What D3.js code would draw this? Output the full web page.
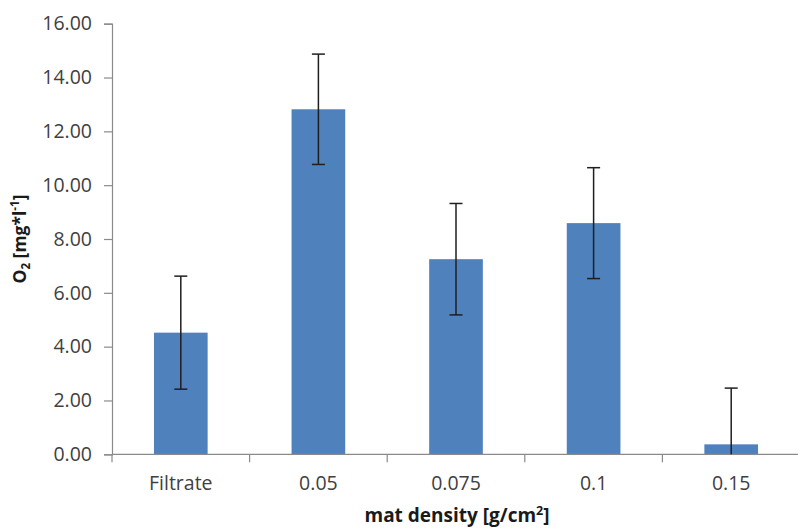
<!DOCTYPE html>
<html>
<head>
<meta charset="utf-8">
<script src="https://cdn.jsdelivr.net/npm/d3@7"></script>
<style>
  body { margin: 0; background: #fff; }
  svg { display: block; font-family: "Open Sans", sans-serif; }
</style>
</head>
<body>
<div id="chart"></div>
<script>
const categories = ["Filtrate", "0.05", "0.075", "0.1", "0.15"];
const means = [4.52, 12.82, 7.25, 8.59, 0.37];
const errors = [2.1, 2.05, 2.07, 2.06, 2.09];
const yTicks = [0, 2, 4, 6, 8, 10, 12, 14, 16];

const W = 798, H = 530;
const plotLeft = 112, plotRight = 800, plotTop = 23.7, plotBottom = 454.3;

const svg = d3.select("#chart").append("svg")
    .attr("width", W)
    .attr("height", H);

const x = d3.scaleBand().domain(categories).range([plotLeft, plotRight]).paddingInner(0.61).paddingOuter(0.305);
const y = d3.scaleLinear().domain([0, 16]).range([plotBottom, plotTop]);

// y axis
const yAxis = svg.append("g")
    .attr("transform", `translate(${plotLeft},0)`)
    .call(d3.axisLeft(y).tickValues(yTicks).tickFormat(d3.format(".2f")).tickSize(8).tickPadding(12));
yAxis.select(".domain").attr("stroke", "#8a8a8a").attr("stroke-width", 1.2);
yAxis.selectAll(".tick line").attr("stroke", "#8a8a8a").attr("stroke-width", 1.2);
yAxis.selectAll(".tick text")
    .attr("fill", "#404040")
    .style("font-size", "19.5px")
    .style("font-family", "'Open Sans', sans-serif");

// bars
svg.selectAll(".bar")
    .data(categories)
    .enter()
    .append("rect")
    .attr("class", "bar")
    .attr("x", d => x(d))
    .attr("width", x.bandwidth())
    .attr("y", (d, i) => y(means[i]))
    .attr("height", (d, i) => y(0) - y(means[i]))
    .attr("fill", "#4F81BD");

// x axis (boundary ticks between categories)
const step = x.step();
const xAxisG = svg.append("g");
xAxisG.append("line")
    .attr("x1", plotLeft).attr("x2", W)
    .attr("y1", y(0)).attr("y2", y(0))
    .attr("stroke", "#8a8a8a").attr("stroke-width", 1.2);
xAxisG.selectAll(".xtick")
    .data(d3.range(categories.length + 1))
    .enter()
    .append("line")
    .attr("x1", i => plotLeft + i * step)
    .attr("x2", i => plotLeft + i * step)
    .attr("y1", y(0))
    .attr("y2", y(0) + 8)
    .attr("stroke", "#8a8a8a").attr("stroke-width", 1.2);
xAxisG.selectAll(".xlabel")
    .data(categories)
    .enter()
    .append("text")
    .attr("x", d => x(d) + x.bandwidth() / 2)
    .attr("y", 490)
    .attr("text-anchor", "middle")
    .attr("fill", "#404040")
    .style("font-size", "19.5px")
    .text(d => d);

// error bars
const eb = svg.selectAll(".err")
    .data(categories)
    .enter()
    .append("g")
    .attr("class", "err")
    .attr("stroke", "#1f1f1f")
    .attr("stroke-width", 1.5);
eb.append("line")
    .attr("x1", d => x(d) + x.bandwidth() / 2)
    .attr("x2", d => x(d) + x.bandwidth() / 2)
    .attr("y1", (d, i) => y(Math.max(0, means[i] - errors[i])))
    .attr("y2", (d, i) => y(means[i] + errors[i]));
eb.append("line")
    .attr("x1", d => x(d) + x.bandwidth() / 2 - 6.5)
    .attr("x2", d => x(d) + x.bandwidth() / 2 + 6.5)
    .attr("y1", (d, i) => y(means[i] + errors[i]))
    .attr("y2", (d, i) => y(means[i] + errors[i]));
eb.filter((d, i) => means[i] - errors[i] >= 0)
    .append("line")
    .attr("x1", d => x(d) + x.bandwidth() / 2 - 6.5)
    .attr("x2", d => x(d) + x.bandwidth() / 2 + 6.5)
    .attr("y1", d => y(means[categories.indexOf(d)] - errors[categories.indexOf(d)]))
    .attr("y2", d => y(means[categories.indexOf(d)] - errors[categories.indexOf(d)]));

// axis titles
const xt = svg.append("text")
    .attr("x", 457)
    .attr("y", 522)
    .attr("text-anchor", "middle")
    .attr("fill", "#1a1a1a")
    .style("font-size", "19px")
    .style("font-weight", "bold");
xt.append("tspan").text("mat density [g/cm");
xt.append("tspan").attr("dy", -7).style("font-size", "12.5px").text("2");
xt.append("tspan").attr("dy", 7).text("]");

const yt = svg.append("text")
    .attr("transform", `translate(26,${(plotTop + plotBottom) / 2}) rotate(-90)`)
    .attr("text-anchor", "middle")
    .attr("fill", "#1a1a1a")
    .style("font-size", "17.5px")
    .style("font-weight", "bold");
yt.append("tspan").text("O");
yt.append("tspan").attr("dy", 4).style("font-size", "11.5px").text("2");
yt.append("tspan").attr("dy", -4).text(" [mg*l");
yt.append("tspan").attr("dy", -7).style("font-size", "11.5px").text("-1");
yt.append("tspan").attr("dy", 7).text("]");
</script>
</body>
</html>
